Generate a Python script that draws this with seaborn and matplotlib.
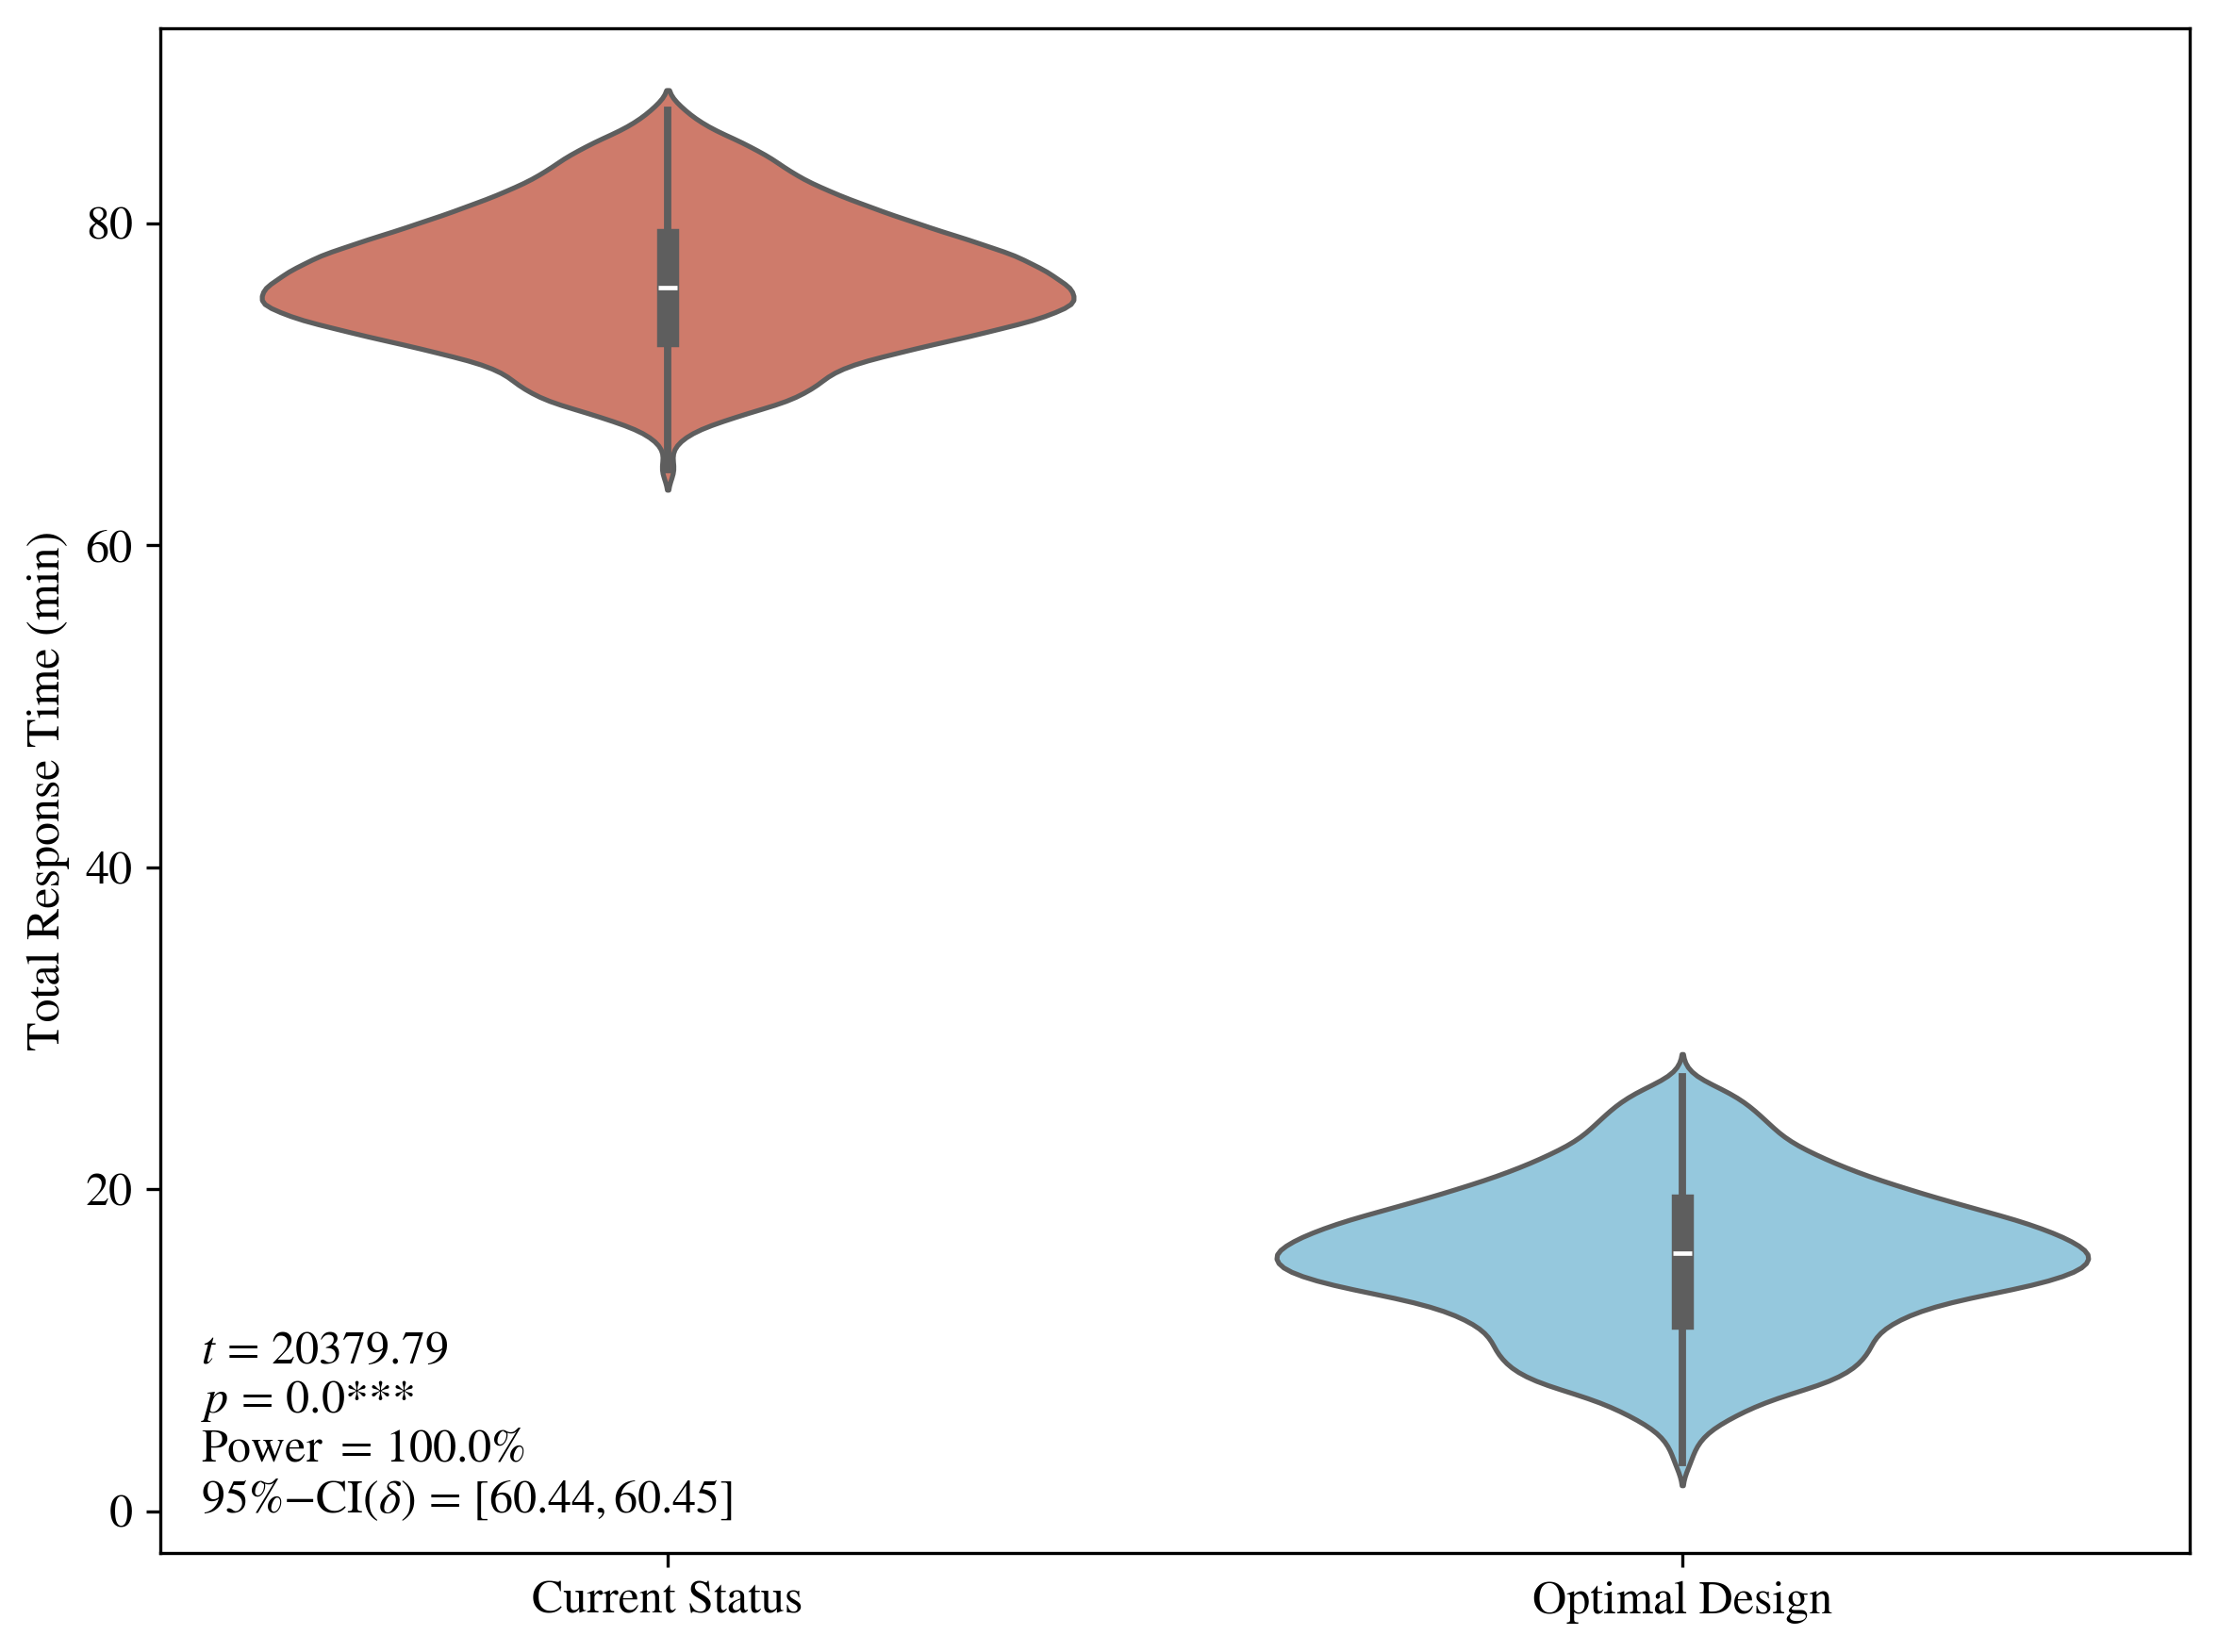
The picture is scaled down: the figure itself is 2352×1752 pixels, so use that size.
import numpy as np
import pandas as pd
import seaborn as sns
import matplotlib.pyplot as plt

# Groupes comparés
groups = ["Current Status", "Optimal Design"]
palette = ["#CE7B6B", "#95C8DD"]

current_minutes = [64.7, 66, 67, 68, 69, 70, 71, 72, 73, 74, 75, 76,
                   77, 78, 79, 80, 81, 82, 83, 84, 85, 86, 87]
current_counts = [2, 1, 5, 16, 30, 36, 40, 55, 72, 88, 98, 96,
                  90, 83, 71, 59, 48, 38, 30, 25, 18, 9, 4]

optimal_minutes = [3, 4, 5, 6, 7, 8, 9, 10, 11, 12, 13, 14, 15,
                   16, 17, 18, 19, 20, 21, 22, 23, 24, 25, 26, 27]
optimal_counts = [2, 3, 6, 13, 21, 36, 42, 45, 46, 52, 62, 85, 97,
                  99, 92, 82, 67, 54, 42, 33, 25, 21, 17, 12, 2]

# Résultats du test t
stats_lines = [
    r"$t\,=\,20379.79$",
    r"$p\,=\,0.0$***",
    r"Power $=\,100.0\%$",
    r"$95\%{-}\mathrm{CI}(\delta)\,=\,[60.44, 60.45]$",
]

# Construction du DataFrame à partir des fréquences
df = pd.DataFrame({
    "Group": np.repeat(groups, [sum(current_counts), sum(optimal_counts)]),
    "Time": np.concatenate([np.repeat(current_minutes, current_counts),
                            np.repeat(optimal_minutes, optimal_counts)]),
})

plt.rcParams["font.family"] = ["STIXGeneral", "DejaVu Serif"]
plt.rcParams["mathtext.fontset"] = "stix"
plt.rcParams["font.size"] = 12

fig, ax = plt.subplots(figsize=(7.84, 5.84), dpi=300)
fig.subplots_adjust(left=0.0723, right=0.9872, top=0.9829, bottom=0.0599)

sns.violinplot(data=df, x="Group", y="Time", hue="Group", palette=palette,
               legend=False, density_norm="width", bw_method=0.15,
               saturation=1, linewidth=1.25, linecolor="#5e5e5e", ax=ax)

ax.set_xlabel("")
ax.set_ylabel("Total Response Time (min)")
ax.set_ylim(-2.6, 92.1)

ax.text(0.02, 0.02, "\n".join(stats_lines), transform=ax.transAxes,
        ha="left", va="bottom", linespacing=1.15)

fig.savefig("out.png", dpi=300)
